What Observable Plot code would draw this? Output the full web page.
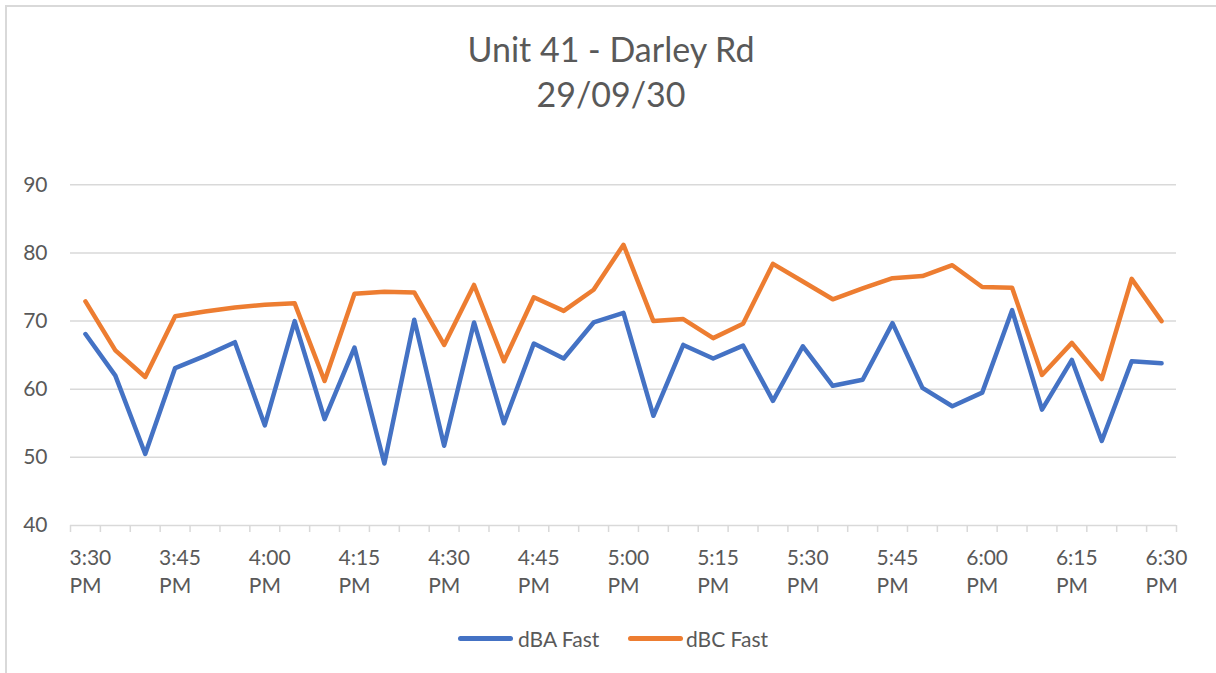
<!DOCTYPE html>
<html>
<head>
<meta charset="utf-8">
<script src="https://cdn.jsdelivr.net/npm/d3@7"></script>
<script src="https://cdn.jsdelivr.net/npm/@observablehq/plot@0.6"></script>
<style>
  html, body { margin: 0; padding: 0; background: #fff; overflow: hidden; }
  #wrap { position: relative; width: 1216px; height: 673px; font-family: Lato, sans-serif; color: #595959; }
  #border { position: absolute; left: 5px; top: 5px; width: 1300px; height: 800px; border: 2px solid #D9D9D9; box-sizing: border-box; }
  #chart { position: absolute; left: 0; top: 0; }
  #title { position: absolute; left: 0; width: 1222px; top: 26px; text-align: center; font-size: 34px; font-weight: 400; line-height: 45px; color: #595959; }
  .sw { position: absolute; height: 5px; border-radius: 2.5px; }
  .lt { position: absolute; font-size: 21px; line-height: 25px; color: #595959; white-space: nowrap; }
</style>
</head>
<body>
<div id="wrap">
  <div id="border"></div>
  <div id="chart"></div>
  <div id="title">Unit 41 - Darley Rd<br>29/09/30</div>
  <div class="sw" style="left:458px; top:635.5px; width:55px; background:#4472C4"></div>
  <div class="lt" style="left:518px; top:626px;">dBA Fast</div>
  <div class="sw" style="left:628px; top:635.5px; width:55px; background:#ED7D31"></div>
  <div class="lt" style="left:686px; top:626px;">dBC Fast</div>
</div>
<script>
const times = ["3:30 PM","3:35 PM","3:40 PM","3:45 PM","3:50 PM","3:55 PM","4:00 PM","4:05 PM","4:10 PM","4:15 PM","4:20 PM","4:25 PM","4:30 PM","4:35 PM","4:40 PM","4:45 PM","4:50 PM","4:55 PM","5:00 PM","5:05 PM","5:10 PM","5:15 PM","5:20 PM","5:25 PM","5:30 PM","5:35 PM","5:40 PM","5:45 PM","5:50 PM","5:55 PM","6:00 PM","6:05 PM","6:10 PM","6:15 PM","6:20 PM","6:25 PM","6:30 PM"];
const tickLabels = ["3:30 PM","3:45 PM","4:00 PM","4:15 PM","4:30 PM","4:45 PM","5:00 PM","5:15 PM","5:30 PM","5:45 PM","6:00 PM","6:15 PM","6:30 PM"];
const yTicks = [40, 50, 60, 70, 80, 90];
const dBA = [68.1,62.0,50.5,63.1,64.9,66.9,54.7,70.0,55.6,66.1,49.1,70.2,51.7,69.8,55.0,66.7,64.5,69.8,71.2,56.1,66.5,64.5,66.4,58.3,66.3,60.5,61.4,69.7,60.2,57.5,59.5,71.6,57.0,64.3,52.4,64.1,63.8];
const dBC = [72.9,65.7,61.8,70.7,71.4,72.0,72.4,72.6,61.2,74.0,74.3,74.2,66.5,75.3,64.1,73.5,71.5,74.6,81.2,70.0,70.3,67.5,69.6,78.4,75.8,73.2,74.8,76.3,76.6,78.2,75.0,74.9,62.1,66.8,61.5,76.2,70.0];
const seriesA = "dBA Fast", seriesC = "dBC Fast";

const rows = [
  ...times.map((t, i) => ({time: t, value: dBA[i], series: seriesA})),
  ...times.map((t, i) => ({time: t, value: dBC[i], series: seriesC}))
];

const step = (1176 - 70) / times.length;

const plot = Plot.plot({
  width: 1216,
  height: 673,
  marginLeft: 70,
  marginRight: 40,
  marginTop: 184.3,
  marginBottom: 148,
  style: {fontFamily: "Lato, sans-serif", fontSize: "21px", color: "#595959", background: "transparent"},
  x: {type: "point", domain: times, padding: 0.5},
  y: {domain: [40, 90]},
  color: {domain: [seriesA, seriesC], range: ["#4472C4", "#ED7D31"]},
  marks: [
    Plot.ruleY(yTicks, {stroke: "#D9D9D9", strokeWidth: 1.5}),
    Plot.axisX({ticks: times, tickFormat: () => "", tickSize: 7, dx: -step / 2, stroke: "#D9D9D9", strokeWidth: 1.5, strokeOpacity: 1, label: null}),
    Plot.axisX({ticks: [times[times.length - 1]], tickFormat: () => "", tickSize: 7, dx: step / 2, stroke: "#D9D9D9", strokeWidth: 1.5, strokeOpacity: 1, label: null}),
    Plot.axisX({ticks: tickLabels, tickFormat: d => d.replace(" ", "\n"), tickSize: 0, tickPadding: 20, textAnchor: "start", dx: -16, fontSize: 21, lineHeight: 1.32, fill: "#595959", label: null}),
    Plot.axisY({ticks: yTicks, tickSize: 0, tickPadding: 23, fontSize: 21, fill: "#595959", label: null}),
    Plot.lineY(rows, {x: "time", y: "value", stroke: "series", z: "series", strokeWidth: 4.5, strokeLinejoin: "round", strokeLinecap: "round"})
  ]
});
document.getElementById("chart").appendChild(plot);
</script>
</body>
</html>
